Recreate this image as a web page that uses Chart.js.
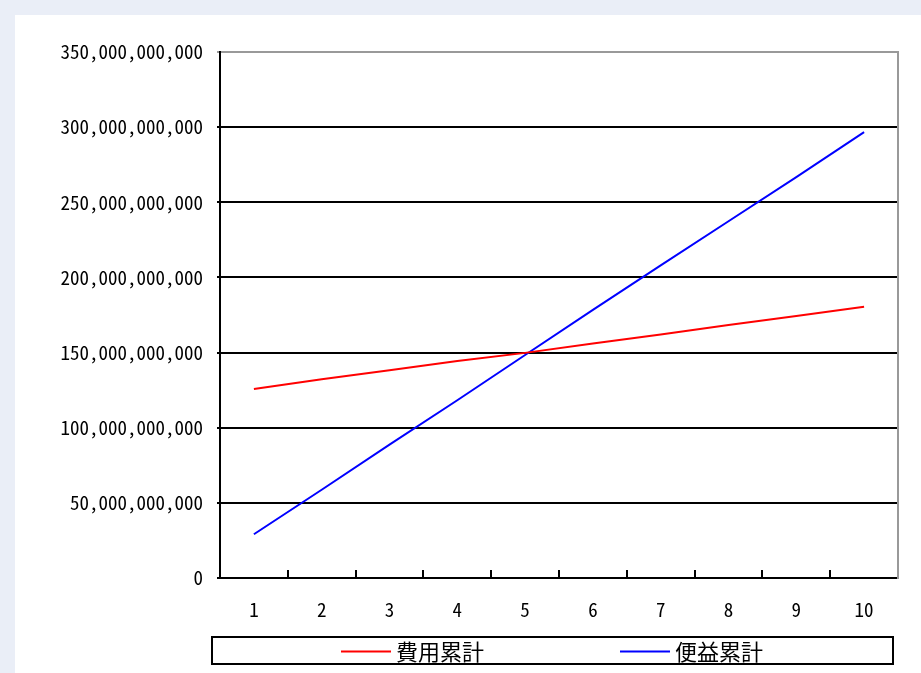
<!DOCTYPE html>
<html>
<head>
<meta charset="utf-8">
<script src="https://cdn.jsdelivr.net/npm/chart.js@4/dist/chart.umd.min.js"></script>
<style>
  html, body { margin: 0; padding: 0; background: #eaeef7; }
  body { width: 921px; height: 673px; position: relative; overflow: hidden; }
  #panel { position: absolute; left: 15px; top: 15px; width: 906px; height: 658px; background: #ffffff; }
  #chart { display: block; }
</style>
</head>
<body>
<div id="panel"><canvas id="chart" width="906" height="658"></canvas></div>
<script>
// Year index along the horizontal axis
const years = ['1', '2', '3', '4', '5', '6', '7', '8', '9', '10'];
// Cumulative cost per year (yen)
const costCumulative = [125.8e9, 132.2e9, 138.2e9, 144.4e9, 149.8e9, 156.0e9, 162.0e9, 168.3e9, 174.3e9, 180.5e9];
// Cumulative benefit per year (yen)
const benefitCumulative = [29.1e9, 58.7e9, 88.8e9, 118.3e9, 148.4e9, 178.4e9, 208.0e9, 237.4e9, 266.7e9, 296.7e9];
// Value axis ticks
const yTicks = [0, 50e9, 100e9, 150e9, 200e9, 250e9, 300e9, 350e9];
const seriesNames = ['費用累計', '便益累計'];

const tickFont = { family: '"Noto Sans Mono CJK JP", "DejaVu Sans Mono", monospace', size: 19 };
const legendFontFamily = '"Noto Sans CJK JP", "Noto Sans", sans-serif';

// Boxed legend drawn under the plot
const boxedLegend = {
  id: 'boxedLegend',
  afterDraw(chart) {
    const ctx = chart.ctx;
    const box = { left: 197, top: 622, right: 878, bottom: 649 };
    ctx.save();
    ctx.strokeStyle = '#000';
    ctx.lineWidth = 2;
    ctx.strokeRect(box.left, box.top, box.right - box.left, box.bottom - box.top);
    ctx.font = '22px ' + legendFontFamily;
    ctx.textBaseline = 'middle';
    const sample = 50, textGap = 5, itemGap = 136;
    const items = chart.data.datasets.map(ds => ({
      label: ds.label, color: ds.borderColor,
      w: sample + textGap + ctx.measureText(ds.label).width
    }));
    const total = items.reduce((s, it) => s + it.w, 0) + itemGap * (items.length - 1);
    let x = Math.round((box.left + box.right) / 2 - total / 2);
    const cy = (box.top + box.bottom) / 2 + 1;
    items.forEach(it => {
      ctx.strokeStyle = it.color;
      ctx.lineWidth = 2;
      ctx.beginPath();
      ctx.moveTo(x, cy);
      ctx.lineTo(x + sample, cy);
      ctx.stroke();
      ctx.fillStyle = '#000';
      ctx.fillText(it.label, x + sample + textGap, cy);
      x += it.w + itemGap;
    });
    ctx.restore();
  }
};

new Chart(document.getElementById('chart'), {
  type: 'line',
  data: {
    labels: years,
    datasets: [
      { label: seriesNames[0], data: costCumulative, borderColor: '#ff0000', borderWidth: 2, pointRadius: 0, tension: 0 },
      { label: seriesNames[1], data: benefitCumulative, borderColor: '#0000ff', borderWidth: 2, pointRadius: 0, tension: 0 }
    ]
  },
  options: {
    responsive: false,
    animation: false,
    layout: { padding: { top: 37, right: 23, left: 0, bottom: 0 } },
    plugins: { legend: { display: false }, tooltip: { enabled: false } },
    scales: {
      x: {
        offset: true,
        grid: { offset: true, drawOnChartArea: false, color: '#000', lineWidth: 2, tickLength: -8 },
        border: { color: '#000', width: 2 },
        ticks: { color: '#000', font: tickFont, padding: 28, maxRotation: 0 },
        afterFit(scale) { scale.height = 95; }
      },
      y: {
        min: 0, max: 350e9,
        afterBuildTicks(scale) { scale.ticks = yTicks.map(v => ({ value: v })); },
        grid: {
          color: ctx => (ctx.tick && ctx.tick.value === 350e9) ? '#999' : '#000',
          lineWidth: 2, tickLength: 3
        },
        border: { color: '#000', width: 2 },
        ticks: { color: '#000', font: tickFont, padding: 14, callback: v => v.toLocaleString('en-US') },
        afterFit(scale) { scale.width = 205; }
      },
      yRight: {
        position: 'right',
        min: 0, max: 350e9,
        grid: { drawOnChartArea: false, drawTicks: false },
        border: { color: '#999', width: 2 },
        ticks: { display: false },
        afterFit(scale) { scale.width = 0; }
      }
    }
  },
  plugins: [boxedLegend]
});
</script>
</body>
</html>
